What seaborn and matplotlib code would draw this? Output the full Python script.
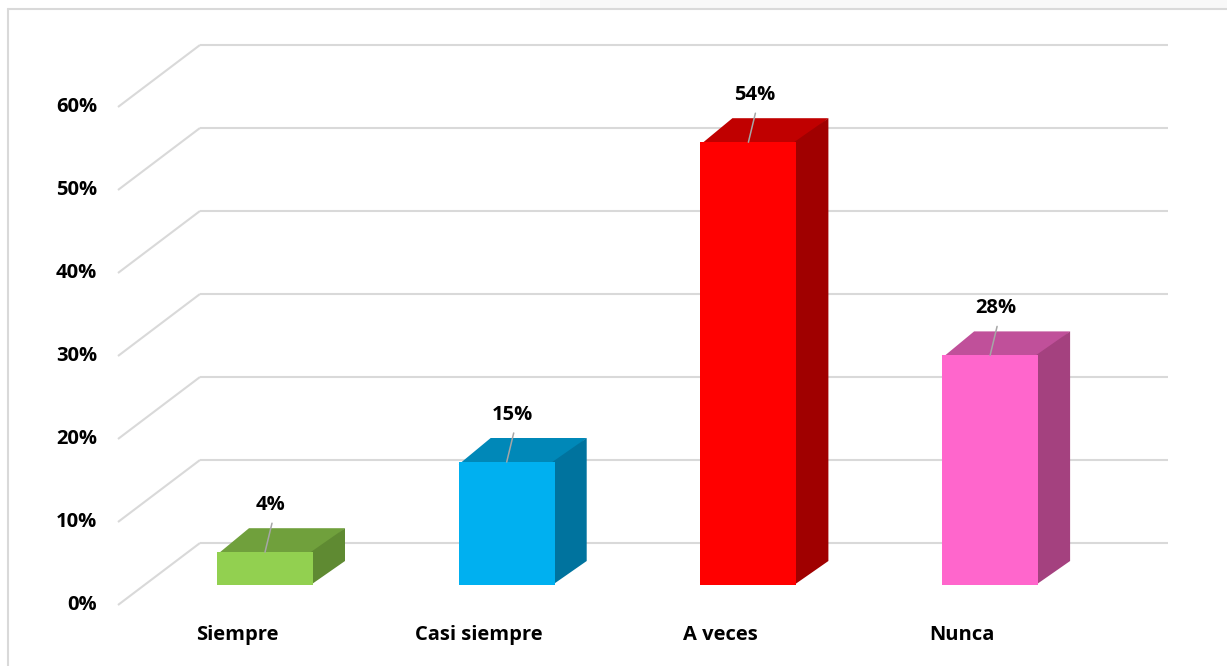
import matplotlib
matplotlib.use("Agg")
import matplotlib.pyplot as plt
import seaborn as sns
import numpy as np
from matplotlib.patches import Polygon, Rectangle

categories = ["Siempre", "Casi siempre", "A veces", "Nunca"]
values = [4, 15, 54, 28]
labels = ["4%", "15%", "54%", "28%"]
tick_values = [0, 10, 20, 30, 40, 50, 60]
tick_labels = ["0%", "10%", "20%", "30%", "40%", "50%", "60%"]

front_colors = ["#92d050", "#00b0f0", "#ff0000", "#ff66cc"]
top_colors = ["#70a03c", "#0088b8", "#c00000", "#c0509a"]
side_colors = ["#5f8a32", "#00739e", "#a00000", "#a4417f"]

sns.set_theme(style="white")
plt.rcParams["font.family"] = ["Open Sans", "DejaVu Sans"]
FS = 14.5

W, H = 1227, 666
fig = plt.figure(figsize=(W / 100, H / 100), dpi=100)
ax = fig.add_axes([0, 0, 1, 1])

px_cat = 241.7
px_pct = 8.2
x0_px = 265.0
y0_px = 585.0

floor_front = (-26 / px_cat, -20 / px_pct)
floor_back = (56 / px_cat, 42 / px_pct)
bar_depth = (32 / px_cat, 24 / px_pct)
bar_w = 96 / px_cat
grid_step = 83 / px_pct / 10

grid_c = "#d9d9d9"
wall_left = -0.269
wall_right = 3.736
front_left = wall_left - 82 / px_cat
for t in tick_values:
    yb = floor_back[1] + t * grid_step
    yf = floor_front[1] + t * grid_step
    ax.plot([wall_left, wall_right], [yb, yb], color=grid_c, lw=1.5, zorder=1,
            solid_capstyle="butt")
    ax.plot([front_left, wall_left], [yf, yb], color=grid_c, lw=1.5, zorder=1,
            solid_capstyle="butt")

sns.barplot(x=categories, y=values, hue=categories, palette=front_colors,
            width=bar_w, saturation=1, legend=False, ax=ax, zorder=4,
            linewidth=0)
ax.set_xlim(-x0_px / px_cat, (W - x0_px) / px_cat)
ax.set_ylim((y0_px - H) / px_pct, y0_px / px_pct)
ax.axis("off")

dx, dy = bar_depth
eps = 0.01
for i, v in enumerate(values):
    l, r = i - bar_w / 2, i + bar_w / 2
    top = Polygon([(l, v - 0.3), (r, v - 0.3), (r + dx, v + dy), (l + dx, v + dy)],
                  closed=True, facecolor=top_colors[i], edgecolor="none", zorder=3)
    side = Polygon([(r - eps, 0), (r - eps, v), (r + dx, v + dy), (r + dx, dy)],
                   closed=True, facecolor=side_colors[i], edgecolor="none", zorder=3)
    ax.add_patch(top)
    ax.add_patch(side)
    ax.plot([i, i + 7 / px_cat], [v, v + 29 / px_pct], color="#a6a6a6", lw=1.1, zorder=5)
    ax.text(i + 6 / px_cat, v + 47 / px_pct, labels[i], ha="center", va="center",
            fontsize=FS, fontweight="bold", color="black", zorder=6)
    ax.text(i + floor_front[0] - 2 / px_cat, -50 / px_pct, categories[i], ha="center",
            va="center", fontsize=FS, fontweight="bold", color="black")

for t, lab in zip(tick_values, tick_labels):
    ax.text(-168 / px_cat, floor_front[1] + t * grid_step, lab, ha="right", va="center",
            fontsize=FS, fontweight="bold", color="black")

fig.patches.append(Rectangle((540 / W, 1 - 8 / H), 1 - 540 / W, 8 / H,
                             transform=fig.transFigure, facecolor="#f8f8f8",
                             edgecolor="none", zorder=0))
fig.lines.append(plt.Line2D([8 / W, 8 / W], [0, 1 - 9 / H], transform=fig.transFigure,
                            color="#d9d9d9", lw=1.5))
fig.lines.append(plt.Line2D([8 / W, 1], [1 - 9 / H, 1 - 9 / H], transform=fig.transFigure,
                            color="#d9d9d9", lw=1.5))

fig.savefig("out.png", dpi=100, facecolor="white")
